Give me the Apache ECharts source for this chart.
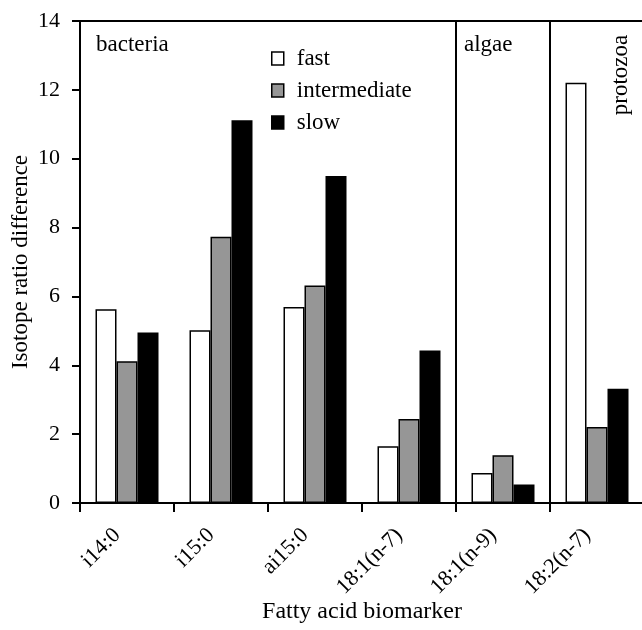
<!DOCTYPE html>
<html>
<head>
<meta charset="utf-8">
<script src="https://cdn.jsdelivr.net/npm/echarts@6/dist/echarts.min.js"></script>
<style>
    html, body { margin: 0; padding: 0; background: #fff; }
    #chart { width: 642px; height: 630px; }
</style>
</head>
<body>
<div id="chart"></div>
<script>
// fatty acid categories and the three series
var categories = ['i14:0', 'i15:0', 'ai15:0', '18:1(n-7)', '18:1(n-9)', '18:2(n-7)']
var fastValues = [5.63, 5.02, 5.69, 1.65, 0.87, 12.21]
var intermediateValues = [4.12, 7.73, 6.32, 2.44, 1.39, 2.21]
var slowValues = [4.95, 11.12, 9.50, 4.43, 0.54, 3.32]
var yTicks = [0, 2, 4, 6, 8, 10, 12, 14]
// index of the categories where a new group starts (vertical divider)
var groupStarts = [4, 5]

var font = '"Liberation Serif", "Times New Roman", serif'
var black = '#000'

var myChart = echarts.init(document.getElementById('chart'))

function barSeries(name, data, fill) {
    return {
        name: name,
        type: 'bar',
        data: data,
        barWidth: 21,
        barGap: '0%',
        itemStyle: {
            color: fill,
            borderColor: black,
            borderWidth: 1.5
        }
    }
}

var option = {
    animation: false,
    backgroundColor: '#fff',
    textStyle: { fontFamily: font, color: black },
    grid: {
        left: 80,
        right: -2,
        top: 21,
        bottom: 127,
        containLabel: false,
        outerBoundsMode: 'none',
        show: true,
        borderColor: black,
        borderWidth: 2
    },
    legend: {
        orient: 'vertical',
        left: 266,
        top: 42,
        itemWidth: 12,
        itemHeight: 13,
        itemGap: 9,
        icon: 'rect',
        itemStyle: { borderColor: black, borderWidth: 1.5 },
        textStyle: {
            fontFamily: font,
            fontSize: 23,
            color: black,
            lineHeight: 23,
            padding: [0, 0, 0, 8]
        },
        data: ['fast', 'intermediate', 'slow']
    },
    xAxis: {
        type: 'category',
        data: categories,
        boundaryGap: true,
        name: 'Fatty acid biomarker',
        nameLocation: 'middle',
        nameGap: 97,
        nameMoveOverlap: false,
        nameTextStyle: { fontFamily: font, fontSize: 24, color: black },
        axisLine: { lineStyle: { color: black, width: 2 } },
        axisTick: { show: true, length: 9, lineStyle: { color: black, width: 2 } },
        axisLabel: {
            rotate: 45,
            margin: 19,
            interval: 0,
            padding: [0, 14, 0, 0],
            fontFamily: font,
            fontSize: 22,
            color: black
        },
        splitLine: {
            show: true,
            interval: function (index) {
                return groupStarts.indexOf(index) >= 0
            },
            lineStyle: { color: black, width: 2 }
        }
    },
    yAxis: {
        type: 'value',
        min: yTicks[0],
        max: yTicks[yTicks.length - 1],
        interval: yTicks[1] - yTicks[0],
        name: 'Isotope ratio difference',
        nameLocation: 'middle',
        nameGap: 48,
        nameMoveOverlap: false,
        nameTextStyle: { fontFamily: font, fontSize: 23, color: black },
        axisLine: { show: true, lineStyle: { color: black, width: 2 } },
        axisTick: { show: true, length: 8, lineStyle: { color: black, width: 2 } },
        axisLabel: { margin: 20, fontFamily: font, fontSize: 22, color: black },
        splitLine: { show: false }
    },
    graphic: [{
        type: 'text',
        left: 96,
        top: 33,
        style: { text: 'bacteria', font: '23px ' + font, fill: black }
    }, {
        type: 'text',
        left: 464,
        top: 33,
        style: { text: 'algae', font: '23px ' + font, fill: black }
    }, {
        type: 'text',
        x: 621,
        y: 75,
        rotation: Math.PI / 2,
        style: {
            text: 'protozoa',
            font: '23px ' + font,
            fill: black,
            align: 'center',
            verticalAlign: 'middle'
        }
    }],
    series: [
        barSeries('fast', fastValues, '#fff'),
        barSeries('intermediate', intermediateValues, '#969696'),
        barSeries('slow', slowValues, '#000')
    ]
}

myChart.setOption(option)
</script>
</body>
</html>
